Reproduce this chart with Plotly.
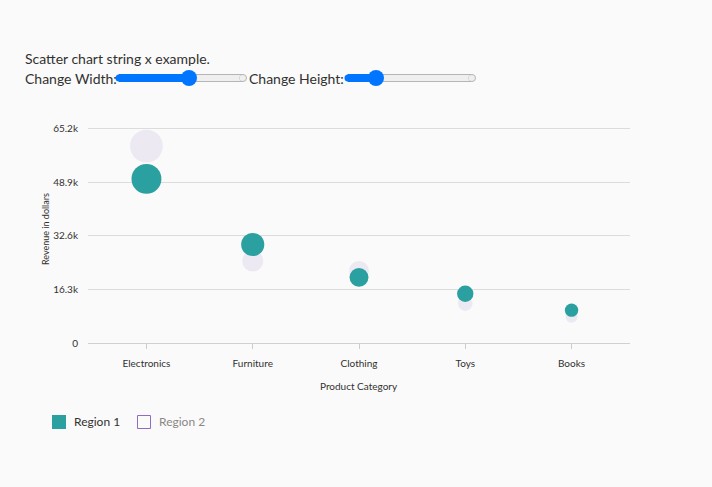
import plotly.graph_objects as go

categories = ["Electronics", "Furniture", "Clothing", "Toys", "Books"]
region1 = [50000, 30000, 20000, 15000, 10000]
region2 = [60000, 25000, 22000, 12000, 8000]
y_ticks = [0, 16300, 32600, 48900, 65200]
y_tick_labels = ["0", "16.3k", "32.6k", "48.9k", "65.2k"]

W, H = 712, 487
L, R, T, B = 88, 630, 126, 343
Y_MAX = 66110
FONT = "Lato, Noto Sans, sans-serif"
TEXT = "#323130"
TEAL = "#2aa0a1"
LAV = "#ece9f2"
SIZEREF = 112.0


def px(x):
    return (x - L) / (R - L)


def py(y):
    return (B - y) / (B - T)


fig = go.Figure()
fig.add_trace(go.Scatter(
    x=categories, y=region2, mode="markers", name="Region 2",
    marker=dict(size=region2, sizemode="area", sizeref=SIZEREF, color=LAV,
                opacity=1, line=dict(width=0)),
))
fig.add_trace(go.Scatter(
    x=categories, y=region1, mode="markers", name="Region 1",
    marker=dict(size=region1, sizemode="area", sizeref=SIZEREF, color=TEAL,
                opacity=1, line=dict(width=0)),
))

shapes = []
annotations = []


def text(x, y, s, size=14, color=TEXT, anchor="left", angle=0):
    annotations.append(dict(xref="paper", yref="paper", x=px(x), y=py(y), text=s,
                            showarrow=False, xanchor=anchor, yanchor="middle",
                            textangle=angle, borderpad=0,
                            font=dict(family=FONT, size=size, color=color)))


def rect(x0, y0, x1, y1, fill, line=None, lw=0, kind="rect"):
    shapes.append(dict(type=kind, xref="paper", yref="paper",
                       x0=px(x0), x1=px(x1), y0=py(y1), y1=py(y0),
                       fillcolor=fill, line=dict(color=line or fill, width=lw),
                       layer="above"))


def slider(x0, x1, thumb, yc):
    r = 3.5
    rect(x0, yc - r, x1, yc + r, "#efefef", "#b5b5b5", 1)
    rect(x1 - r, yc - r, x1 + r, yc + r, "#efefef", "#b5b5b5", 1, "circle")
    rect(x1 - r, yc - r + 1, x1, yc + r - 1, "#efefef", "#efefef", 0)
    rect(x0, yc - r, thumb, yc + r, "#0075ff", "#0075ff", 1)
    rect(x0 - r, yc - r, x0 + r, yc + r, "#0075ff", "#0075ff", 0, "circle")
    rect(thumb - 8, yc - 8, thumb + 8, yc + 8, "#0075ff", "#0075ff", 0, "circle")


text(24, 58, "Scatter chart string x example.", 14)
text(24, 78, "Change Width:", 14)
slider(119, 243, 189, 78)
text(248, 78, "Change Height:", 14)
slider(348, 472, 376, 78)

text(45, 229, "Revenue in dollars", 9, TEXT, "center", -90)
text(359, 386, "Product Category", 10, TEXT, "center")

rect(52, 415, 66, 429, TEAL)
text(73, 422, "Region 1", 12, TEXT)
rect(137.5, 415.5, 150.5, 428.5, "rgba(0,0,0,0)", "#8c6cc4", 1)
text(158, 422, "Region 2", 12, "#8a8886")

fig.update_layout(
    width=W, height=H, autosize=False,
    margin=dict(l=L, r=W - R, t=T, b=H - B, pad=0),
    paper_bgcolor="#fafafa", plot_bgcolor="#fafafa",
    showlegend=False,
    font=dict(family=FONT, color=TEXT),
    shapes=shapes, annotations=annotations,
    xaxis=dict(type="category", range=[-0.55, 4.55], showgrid=False,
               zeroline=False, showline=True, linecolor="#d0d0d0", linewidth=1,
               ticks="outside", ticklen=5, tickcolor="#cccccc",
               tickfont=dict(size=10, color=TEXT), ticklabelstandoff=6,
               fixedrange=True),
    yaxis=dict(range=[0, Y_MAX], tickvals=y_ticks, ticktext=y_tick_labels,
               showgrid=True, gridcolor="#dcdcdc", gridwidth=1,
               zeroline=False, showline=False,
               ticks="outside", ticklen=7, tickcolor="rgba(0,0,0,0)",
               tickfont=dict(size=10, color=TEXT), fixedrange=True),
)

fig.write_html("out.html")
